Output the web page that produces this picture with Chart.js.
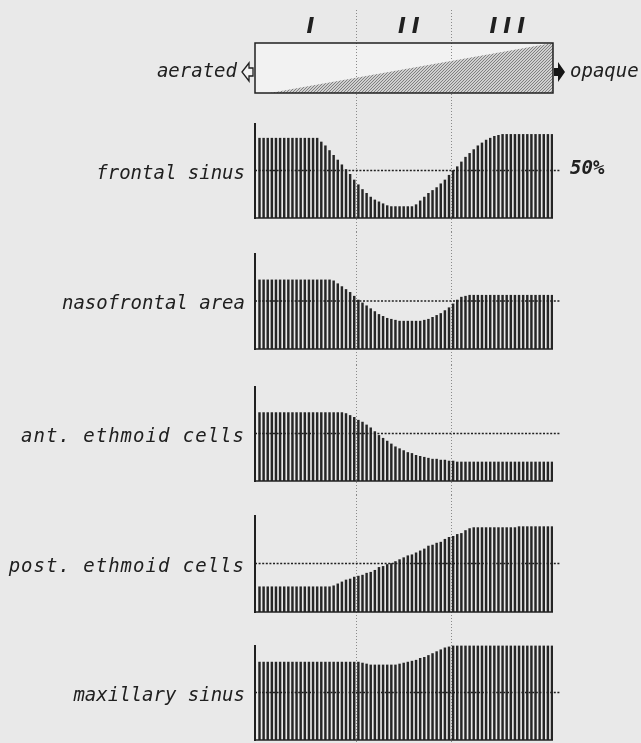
<!DOCTYPE html>
<html>
<head>
<meta charset="utf-8">
<title>Sinus opacity</title>
<script src="https://cdn.jsdelivr.net/npm/chart.js@4.4.1/dist/chart.umd.min.js"></script>
<style>
  html, body { margin: 0; padding: 0; background: #e9e9e9; }
  #figure { position: relative; width: 641px; height: 743px; overflow: hidden; }
  #figure canvas { position: absolute; left: 0; }
</style>
</head>
<body>
<div id="figure"></div>
<script>
// Donnees (72 colonnes, % des cas)
const sections = ["I", "II", "III"];
const sectionEdges = [23.4, 46.6];       // limites I/II et II/III, en colonnes
const scaleEnds = ["aerated", "opaque"];
const opacityFrom = [2.5, 71.24];        // debut / fin du triangle grise
const opacityLevel = [0, 100];
const refLevel = 50;
const refLabel = "50%";

const panelNames = ["frontal sinus", "nasofrontal area", "ant. ethmoid cells", "post. ethmoid cells", "maxillary sinus"];

const frontalSinus = [84, 84, 84, 84, 84, 84, 84, 84, 84, 84, 84, 84, 84, 84, 84,
  80, 76, 71, 66, 61, 56, 51, 46, 40, 35, 30, 26, 22, 19, 17, 15, 13, 12, 12, 12, 12, 12, 12,
  14, 18, 22, 26, 29, 32, 36, 40, 45, 50, 54, 59, 64, 68, 72, 76, 79, 82, 84, 86, 87,
  88, 88, 88, 88, 88, 88, 88, 88, 88, 88, 88, 88, 88];

const nasofrontal = [72, 72, 72, 72, 72, 72, 72, 72, 72, 72, 72, 72, 72, 72, 72, 72, 72, 72,
  71, 68, 65, 62, 59, 55, 51, 48, 45, 42, 39, 36, 34, 32, 31, 30, 29, 29, 29, 29, 29, 29,
  30, 31, 33, 35, 37, 40, 43, 47, 51, 54, 55,
  56, 56, 56, 56, 56, 56, 56, 56, 56, 56, 56, 56, 56, 56, 56, 56, 56, 56, 56, 56, 56];

const antEthmoid = [72, 72, 72, 72, 72, 72, 72, 72, 72, 72, 72, 72, 72, 72, 72, 72, 72, 72, 72, 72, 72,
  71, 69, 67, 64, 62, 59, 56, 52, 48, 45, 42, 39, 36, 34, 32, 30, 29, 27, 26, 25, 24, 23, 23, 22, 22, 21, 21,
  20, 20, 20, 20, 20, 20, 20, 20, 20, 20, 20, 20, 20, 20, 20, 20, 20, 20, 20, 20, 20, 20, 20, 20];

const postEthmoid = [26, 26, 26, 26, 26, 26, 26, 26, 26, 26, 26, 26, 26, 26, 26, 26, 26, 26,
  27, 29, 31, 33, 34, 36, 37, 38, 40, 41, 43, 46, 47, 49, 50, 52, 54, 56, 58, 59, 61, 63, 65,
  68, 69, 71, 72, 75, 77, 78, 80, 81, 84, 86,
  87, 87, 87, 87, 87, 87, 87, 87, 87, 87, 87,
  88, 88, 88, 88, 88, 88, 88, 88, 88];

const maxillary = [82, 82, 82, 82, 82, 82, 82, 82, 82, 82, 82, 82, 82, 82, 82, 82, 82, 82, 82, 82, 82, 82, 82, 82, 82,
  81, 80, 79, 79, 79, 79, 79, 79, 79, 80, 81, 82, 83, 84, 86, 87, 89, 91, 93, 95, 97, 98,
  99, 99, 99, 99, 99, 99, 99, 99, 99, 99, 99, 99, 99, 99, 99, 99, 99, 99, 99, 99, 99, 99, 99, 99, 99];

const panelValues = [frontalSinus, nasofrontal, antEthmoid, postEthmoid, maxillary];
const columns = frontalSinus.map((_, i) => i);

// mise en page : tranche de canvas et position du 0 / 100 %
const topBand = { top: 0, bottom: 105, boxTop: 43, boxBottom: 93 };
const panelLayout = [
  { top: 105, bottom: 232, full: 123, zero: 218, spacing: 0 },
  { top: 232, bottom: 365, full: 253, zero: 349, spacing: 0 },
  { top: 365, bottom: 495, full: 386, zero: 481, spacing: 1 },
  { top: 495, bottom: 627, full: 515, zero: 612, spacing: 1 },
  { top: 627, bottom: 743, full: 645, zero: 740, spacing: 0 }
];
const plotLeft = 255, plotRight = 553, pageWidth = 641;
const ink = "#202020";
const labelFont = 'italic 19px "DejaVu Sans Mono", "Liberation Mono", monospace';

function makeCanvas(top, height) {
  const c = document.createElement("canvas");
  c.width = pageWidth;
  c.height = height;
  c.style.top = top + "px";
  document.getElementById("figure").appendChild(c);
  return c;
}

// trame pointillee du triangle
function stipple() {
  const c = document.createElement("canvas");
  c.width = 3; c.height = 3;
  const g = c.getContext("2d");
  g.fillStyle = "#d0d0d0"; g.fillRect(0, 0, 3, 3);
  g.fillStyle = "#808080";
  g.fillRect(0, 0, 1, 1);
  g.fillRect(2, 1, 1, 1);
  g.fillRect(1, 2, 1, 1);
  return g.createPattern(c, "repeat");
}

const xScale = { type: "linear", min: -1.09, max: 71.24, offset: false, display: false };
const yScale = { type: "linear", min: 0, max: 100, display: false };

// lignes pointillees verticales I / II / III
const dividers = {
  id: "dividers",
  beforeDatasetsDraw(chart, args, opts) {
    const { ctx } = chart;
    const x = chart.scales.x;
    ctx.save();
    ctx.strokeStyle = "#8a8a8a";
    ctx.lineWidth = 1;
    ctx.setLineDash([1, 2]);
    sectionEdges.forEach(v => {
      const px = Math.round(x.getPixelForValue(v)) + 0.5;
      ctx.beginPath();
      ctx.moveTo(px, opts.from || 0);
      ctx.lineTo(px, chart.height);
      ctx.stroke();
    });
    ctx.restore();
  }
};

// cadre d'un panneau : axe, base, ligne 50 %, libelle
const panelFrame = {
  id: "panelFrame",
  afterDatasetsDraw(chart, args, opts) {
    const { ctx, chartArea: a } = chart;
    const y = chart.scales.y;
    const y0 = y.getPixelForValue(0), y100 = y.getPixelForValue(100), y50 = y.getPixelForValue(refLevel);
    ctx.save();
    ctx.strokeStyle = ink;
    ctx.lineWidth = 2;
    ctx.beginPath(); ctx.moveTo(a.left, y0 + 1); ctx.lineTo(a.left, y100); ctx.stroke();
    ctx.lineWidth = 1.5;
    ctx.beginPath(); ctx.moveTo(a.left, y0); ctx.lineTo(a.right, y0); ctx.stroke();
    ctx.lineWidth = 1.4;
    ctx.setLineDash([2, 1.6]);
    ctx.beginPath(); ctx.moveTo(a.left, y50); ctx.lineTo(a.right + 8, y50); ctx.stroke();
    ctx.setLineDash([]);
    ctx.fillStyle = ink;
    ctx.font = labelFont;
    ctx.textAlign = "right";
    ctx.textBaseline = "alphabetic";
    ctx.letterSpacing = opts.spacing + "px";
    ctx.fillText(opts.label, a.left - 10, y50 + 8);
    ctx.letterSpacing = "0px";
    if (opts.mark) {
      ctx.font = 'italic bold 19px "DejaVu Sans Mono", monospace';
      ctx.textAlign = "left";
      ctx.fillText(opts.mark, a.right + 17, y50 + 3);
    }
    ctx.restore();
  }
};

// bande du haut : aerated -> opaque
const opacityBand = {
  id: "opacityBand",
  beforeDatasetsDraw(chart) {
    const { ctx, chartArea: a } = chart;
    ctx.save();
    ctx.fillStyle = "#f2f2f2";
    ctx.fillRect(a.left, a.top, a.right - a.left, a.bottom - a.top);
    ctx.restore();
  },
  afterDatasetsDraw(chart) {
    const { ctx, chartArea: a } = chart;
    const x = chart.scales.x;
    const mid = (a.top + a.bottom) / 2 + 4;
    ctx.save();
    ctx.strokeStyle = ink;
    ctx.lineWidth = 1.5;
    ctx.strokeRect(a.left, a.top, a.right - a.left, a.bottom - a.top);

    // fleche creuse a gauche
    const l = a.left - 13;
    ctx.beginPath();
    ctx.moveTo(l, mid);
    ctx.lineTo(l + 7, mid - 9);
    ctx.lineTo(l + 7, mid - 4);
    ctx.lineTo(l + 11, mid - 4);
    ctx.lineTo(l + 11, mid + 4);
    ctx.lineTo(l + 7, mid + 4);
    ctx.lineTo(l + 7, mid + 9);
    ctx.closePath();
    ctx.fillStyle = "#f2f2f2";
    ctx.fill();
    ctx.lineWidth = 1.3;
    ctx.stroke();

    // fleche pleine a droite
    const r = a.right + 1;
    ctx.beginPath();
    ctx.moveTo(r, mid - 4);
    ctx.lineTo(r + 4, mid - 4);
    ctx.lineTo(r + 4, mid - 10);
    ctx.lineTo(r + 11, mid);
    ctx.lineTo(r + 4, mid + 10);
    ctx.lineTo(r + 4, mid + 4);
    ctx.lineTo(r, mid + 4);
    ctx.closePath();
    ctx.fillStyle = "#151515";
    ctx.fill();

    ctx.fillStyle = ink;
    ctx.font = labelFont;
    ctx.textBaseline = "alphabetic";
    ctx.textAlign = "right";
    ctx.fillText(scaleEnds[0], l - 5, mid + 5);
    ctx.textAlign = "left";
    ctx.fillText(scaleEnds[1], r + 16, mid + 5);

    // I, II, III
    const edges = [a.left, ...sectionEdges.map(v => x.getPixelForValue(v)), a.right];
    ctx.font = 'italic bold 21px "DejaVu Sans", sans-serif';
    ctx.textAlign = "center";
    ctx.letterSpacing = "6px";
    sections.forEach((s, i) => {
      ctx.fillText(s, (edges[i] + edges[i + 1]) / 2 + 8, a.top - 10);
    });
    ctx.letterSpacing = "0px";
    ctx.restore();
  }
};

const baseOptions = (pad) => ({
  responsive: false,
  animation: false,
  events: [],
  layout: { padding: pad },
  scales: { x: xScale, y: yScale },
  plugins: { legend: { display: false }, tooltip: { enabled: false }, title: { display: false } }
});

// bande du haut
{
  const h = topBand.bottom - topBand.top;
  const opts = baseOptions({ top: topBand.boxTop - topBand.top, bottom: topBand.bottom - topBand.boxBottom, left: plotLeft, right: pageWidth - plotRight });
  opts.plugins.dividers = { from: 10 };
  new Chart(makeCanvas(topBand.top, h), {
    type: "line",
    data: {
      datasets: [{
        data: opacityFrom.map((v, i) => ({ x: v, y: opacityLevel[i] })),
        fill: "origin",
        backgroundColor: stipple(),
        borderWidth: 0,
        pointRadius: 0
      }]
    },
    options: opts,
    plugins: [opacityBand, dividers]
  });
}

// les cinq panneaux
panelLayout.forEach((p, k) => {
  const h = p.bottom - p.top;
  const opts = baseOptions({ top: p.full - p.top, bottom: p.bottom - p.zero, left: plotLeft, right: pageWidth - plotRight });
  opts.plugins.dividers = { from: 0 };
  opts.plugins.panelFrame = { label: panelNames[k], spacing: p.spacing, mark: k === 0 ? refLabel : null };
  new Chart(makeCanvas(p.top, h), {
    type: "bar",
    data: {
      datasets: [{
        data: panelValues[k].map((v, i) => ({ x: columns[i], y: v })),
        backgroundColor: "#262626",
        borderWidth: 0,
        barThickness: 1.8
      }]
    },
    options: opts,
    plugins: [dividers, panelFrame]
  });
});
</script>
</body>
</html>
